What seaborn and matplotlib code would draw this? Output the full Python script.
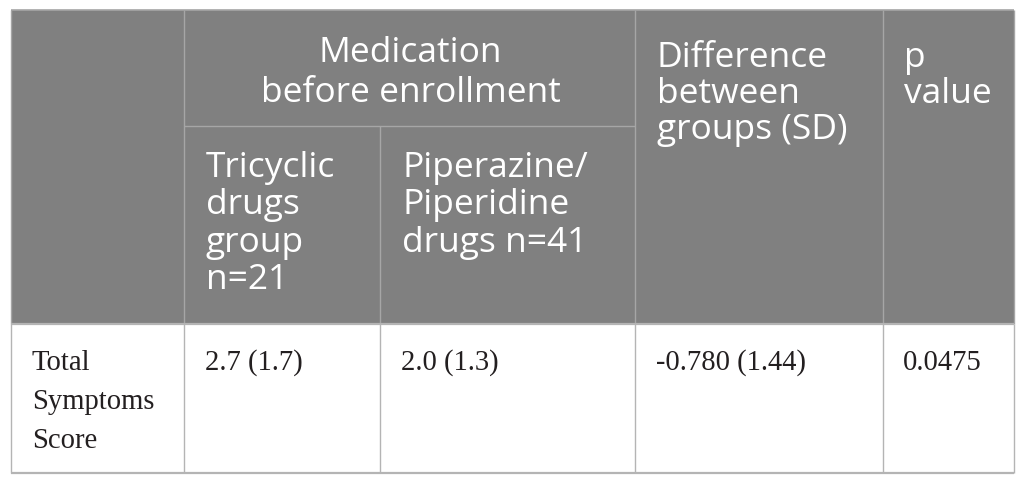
import matplotlib.pyplot as plt
import seaborn as sns

# table content
group_header = "Medication\nbefore enrollment"
sub_headers = ["Tricyclic\ndrugs\ngroup\nn=21", "Piperazine/\nPiperidine\ndrugs n=41"]
diff_header = "Difference\nbetween\ngroups (SD)"
p_header = "p\nvalue"
row_label = "Total\nSymptoms\nScore"
group_means = [2.7, 2.0]
group_sds = [1.7, 1.3]
diff_mean = -0.780
diff_sd = 1.44
p_value = 0.0475

sns.set_theme(style="white")
plt.rcParams['font.family'] = ['Open Sans', 'DejaVu Sans']

# layout in pixels
col_x = [11, 184, 380, 635, 883, 1014]
top, mid, head_bot, bottom = 11, 127, 325, 474
head_color = "#808080"
head_line = "#a6a6a6"
body_line = "#b4b4b4"
head_size = 25.5
body_size = 20.6
head_step = 37.5
body_step = 39


def draw_lines(x, y0, text, step, **kw):
    for i, line in enumerate(text.split("\n")):
        ax.text(x, y0 + i * step, line, va="baseline", **kw)


fig = plt.figure(figsize=(10.25, 4.85), dpi=100)
ax = fig.add_axes([0, 0, 1, 1])
ax.set_xlim(0, 1025)
ax.set_ylim(485, 0)
ax.axis("off")

# header background
ax.fill_between([col_x[0], col_x[-1]], top, head_bot, color=head_color, lw=0)

# header grid
ax.hlines(top, col_x[0], col_x[-1], color=head_line, lw=1.2)
ax.hlines(mid, col_x[1], col_x[3], color=head_line, lw=1.0)
ax.vlines([col_x[0], col_x[1], col_x[3], col_x[4], col_x[5]], top, head_bot,
          color=head_line, lw=1.0)
ax.vlines(col_x[2], mid, head_bot, color=head_line, lw=1.0)

# body grid
ax.hlines([head_bot, bottom], col_x[0], col_x[-1], color=body_line, lw=1.6)
ax.vlines(col_x, head_bot, bottom, color=body_line, lw=1.0)

# header text
hkw = dict(color="white", fontsize=head_size, family=['Open Sans', 'DejaVu Sans'])
gl = group_header.split("\n")
for i, line in enumerate(gl):
    ax.text((col_x[1] + col_x[3]) / 2 + 1, 62 + i * 40, line, ha="center", va="baseline", **hkw)
draw_lines(col_x[1] + 22, 177, sub_headers[0], head_step, **hkw)
draw_lines(col_x[2] + 22, 177, sub_headers[1], head_step, **hkw)
draw_lines(col_x[3] + 22, 67, diff_header, 36, **hkw)
draw_lines(col_x[4] + 21, 67, p_header, 36, **hkw)

# body text
bkw = dict(color="#231f20", fontsize=body_size, family=['Liberation Serif', 'DejaVu Serif'])
draw_lines(col_x[0] + 21, 370, row_label, body_step, **bkw)
for k in range(2):
    draw_lines(col_x[k + 1] + 21, 370, f"{group_means[k]:.1f} ({group_sds[k]:.1f})", body_step, **bkw)
draw_lines(col_x[3] + 21, 370, f"{diff_mean:.3f} ({diff_sd:.2f})", body_step, **bkw)
draw_lines(col_x[4] + 20, 370, f"{p_value:.4f}", body_step, **bkw)

fig.savefig("out.png", dpi=100, facecolor="white")
